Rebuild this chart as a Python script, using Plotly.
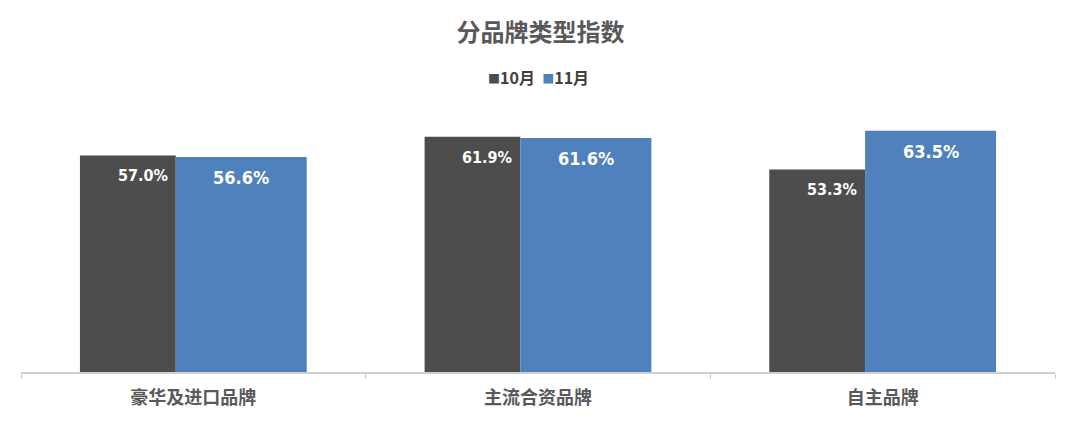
import plotly.graph_objects as go

categories = ["豪华及进口品牌", "主流合资品牌", "自主品牌"]
series_names = ["10月", "11月"]
oct_values = [57.0, 61.9, 53.3]
nov_values = [56.6, 61.6, 63.5]

DARK = "#4d4d4d"
BLUE = "#4f81bd"
CJK = "Noto Sans CJK SC"
NARROW = "Liberation Sans Narrow, DejaVu Sans Condensed, Arial Narrow, sans-serif"

# page body has an 8px margin, so the figure is drawn 8px in from the corner
W, H = 1065, 418
ML, MR, MT, MB = 13, 18, 98, 54
plot_h = H - MT - MB
cat_px = (W - ML - MR) / len(categories)

# bar geometry in category units (10月 narrower than 11月)
oct_offset, oct_width = -0.329, 0.278
nov_offset, nov_width = -0.051, 0.380

fig = go.Figure()
fig.add_trace(go.Bar(
    x=categories, y=oct_values, name=series_names[0],
    marker=dict(color=DARK, line=dict(width=0)),
    offset=oct_offset, width=oct_width, showlegend=False,
))
fig.add_trace(go.Bar(
    x=categories, y=nov_values, name=series_names[1],
    marker=dict(color=BLUE, line=dict(width=0)),
    offset=nov_offset, width=nov_width, showlegend=False,
))

# value labels
for cat, v in zip(categories, oct_values):
    fig.add_annotation(
        x=cat, y=v, xref="x", yref="y", text=f"{v:.1f}%",
        showarrow=False, xanchor="right", yanchor="top",
        xshift=(oct_offset + oct_width) * cat_px - 6, yshift=-9,
        font=dict(family=NARROW, size=16, color="white", weight="bold"),
    )
for cat, v in zip(categories, nov_values):
    fig.add_annotation(
        x=cat, y=v, xref="x", yref="y", text=f"{v:.1f}%",
        showarrow=False, xanchor="center", yanchor="top",
        xshift=(nov_offset + nov_width / 2) * cat_px, yshift=-8,
        font=dict(family=NARROW, size=18, color="white", weight="bold"),
    )

# compact legend
fig.add_annotation(
    x=0.5, y=(H - MB - 69) / plot_h, xref="paper", yref="paper", yanchor="middle",
    text=(f"<span style='color:{DARK};font-size:12px'>■</span>{series_names[0]}  "
          f"<span style='color:{BLUE};font-size:12px'>■</span>{series_names[1]}"),
    showarrow=False,
    font=dict(family=CJK, size=16, color="#404040", weight="bold"),
)

fig.update_layout(
    width=W, height=H,
    margin=dict(l=ML, r=MR, t=MT, b=MB),
    paper_bgcolor="white", plot_bgcolor="white",
    barmode="overlay",
    title=dict(
        text="分品牌类型指数", x=0.5, xanchor="center", y=1 - 25 / H, yanchor="middle",
        font=dict(family=CJK, size=24, color="#595959", weight="bold"),
    ),
    xaxis=dict(
        showgrid=False, showline=True, linecolor="#d0d0d0", linewidth=1.5,
        ticks="outside", tickson="boundaries", ticklen=5, tickcolor="#c8c8c8",
        ticklabelstandoff=9,
        tickfont=dict(family=CJK, size=18, color="#595959", weight="bold"),
    ),
    yaxis=dict(range=[0, 70], visible=False, showgrid=False),
)

fig.write_html("out.html")
